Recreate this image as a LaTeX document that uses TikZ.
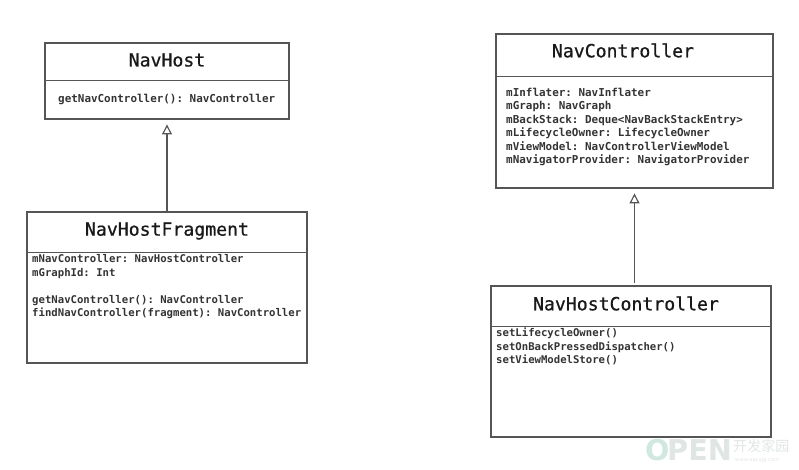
\documentclass[tikz,border=0pt]{standalone}
\usepackage{fontspec}
\usepackage{xcolor}
\usetikzlibrary{arrows.meta}
\setmonofont{DejaVu Sans Mono}
\newfontfamily\namefont[FakeBold=0.8]{DejaVu Sans Mono}
\newfontfamily\cjkmark{Noto Sans CJK SC}
\newfontfamily\markfont{DejaVu Sans}
\definecolor{boxline}{RGB}{85,85,85}
\definecolor{markgreen}{RGB}{208,232,224}
\definecolor{markgrey}{RGB}{224,230,227}
\tikzset{
  classbox/.style={draw=boxline,line width=0.9pt,inner sep=0pt},
  divider/.style={draw=boxline,line width=0.7pt},
  classname/.style={font=\namefont\fontsize{15.5}{18}\selectfont,text=black!90,inner sep=0pt},
  members/.style={font=\ttfamily\bfseries\fontsize{9.08}{11.45}\selectfont,text=black!80,align=left,inner sep=0pt},
  membersbig/.style={members,font=\ttfamily\bfseries\fontsize{9.32}{11.45}\selectfont},
  extends/.style={draw=boxline,line width=1pt,-{Triangle[open,fill=white,length=8.5pt,width=8.5pt]},shorten >=4.2pt},
  markletter/.style={inner sep=0pt,font=\markfont\bfseries\fontsize{24.5}{25}\selectfont,anchor=west},
}

\begin{document}
\begin{tikzpicture}[x=0.03cm,y=-0.03cm]
        \useasboundingbox (0,0) rectangle (799,470);

        % NavHost
        \node[classbox,minimum width=7.32cm,minimum height=2.28cm] (navhost) at (167,81) {};
        \draw[divider] (45,80) -- (289,80);
        \node[classname] (navhostname) at (167,60) {NavHost};
        \node[membersbig,anchor=west] (navhostbody) at (58,99) {getNavController(): NavController};

        % NavHostFragment
        \node[classbox,minimum width=8.4cm,minimum height=4.53cm] (fragment) at (167,287.5) {};
        \draw[divider] (27,252) -- (307,252);
        \node[classname] (fragmentname) at (167,231) {NavHostFragment};
        \node[members,anchor=north west] (fragmentbody) at (32,254.5) {mNavController: NavHostController\\mGraphId: Int\\[11.45pt]getNavController(): NavController\\findNavController(fragment): NavController};

        % NavController
        \node[classbox,minimum width=8.31cm,minimum height=4.62cm] (controller) at (634.5,111) {};
        \draw[divider] (496,76) -- (773,76);
        \node[classname] (controllername) at (623,50.5) {NavController};
        \node[membersbig,anchor=north west] (controllerbody) at (506,88) {mInflater: NavInflater\\mGraph: NavGraph\\mBackStack: Deque<NavBackStackEntry>\\mLifecycleOwner: LifecycleOwner\\mViewModel: NavControllerViewModel\\mNavigatorProvider: NavigatorProvider};

        % NavHostController
        \node[classbox,minimum width=8.4cm,minimum height=4.53cm] (hostctl) at (631,361.5) {};
        \draw[divider] (491,326) -- (771,326);
        \node[classname] (hostctlname) at (626,303.5) {NavHostController};
        \node[members,anchor=north west] (hostctlbody) at (496,328) {setLifecycleOwner()\\setOnBackPressedDispatcher()\\setViewModelStore()};

        % generalisation arrows
        \draw[extends] (fragment.north) -- (navhost.south);
        \draw[extends,shorten <=2.5pt] (controller.south |- hostctl.north) -- (controller.south);

        % site mark
        \node[markletter,text=markgreen] (marko) at (645,450) {O};
        \node[markletter,text=markgrey] (markpen) at (667,450) {PEN};
        \node[inner sep=0pt,text=markgrey,font=\cjkmark\fontsize{12}{12}\selectfont,anchor=west] (markname) at (733,446.5) {开发家园};
        \node[inner sep=0pt,text=markgrey,font=\markfont\fontsize{4.5}{5}\selectfont,anchor=west] (markurl) at (735,460.5) {www.opcsjg.com};
\end{tikzpicture}
\end{document}
